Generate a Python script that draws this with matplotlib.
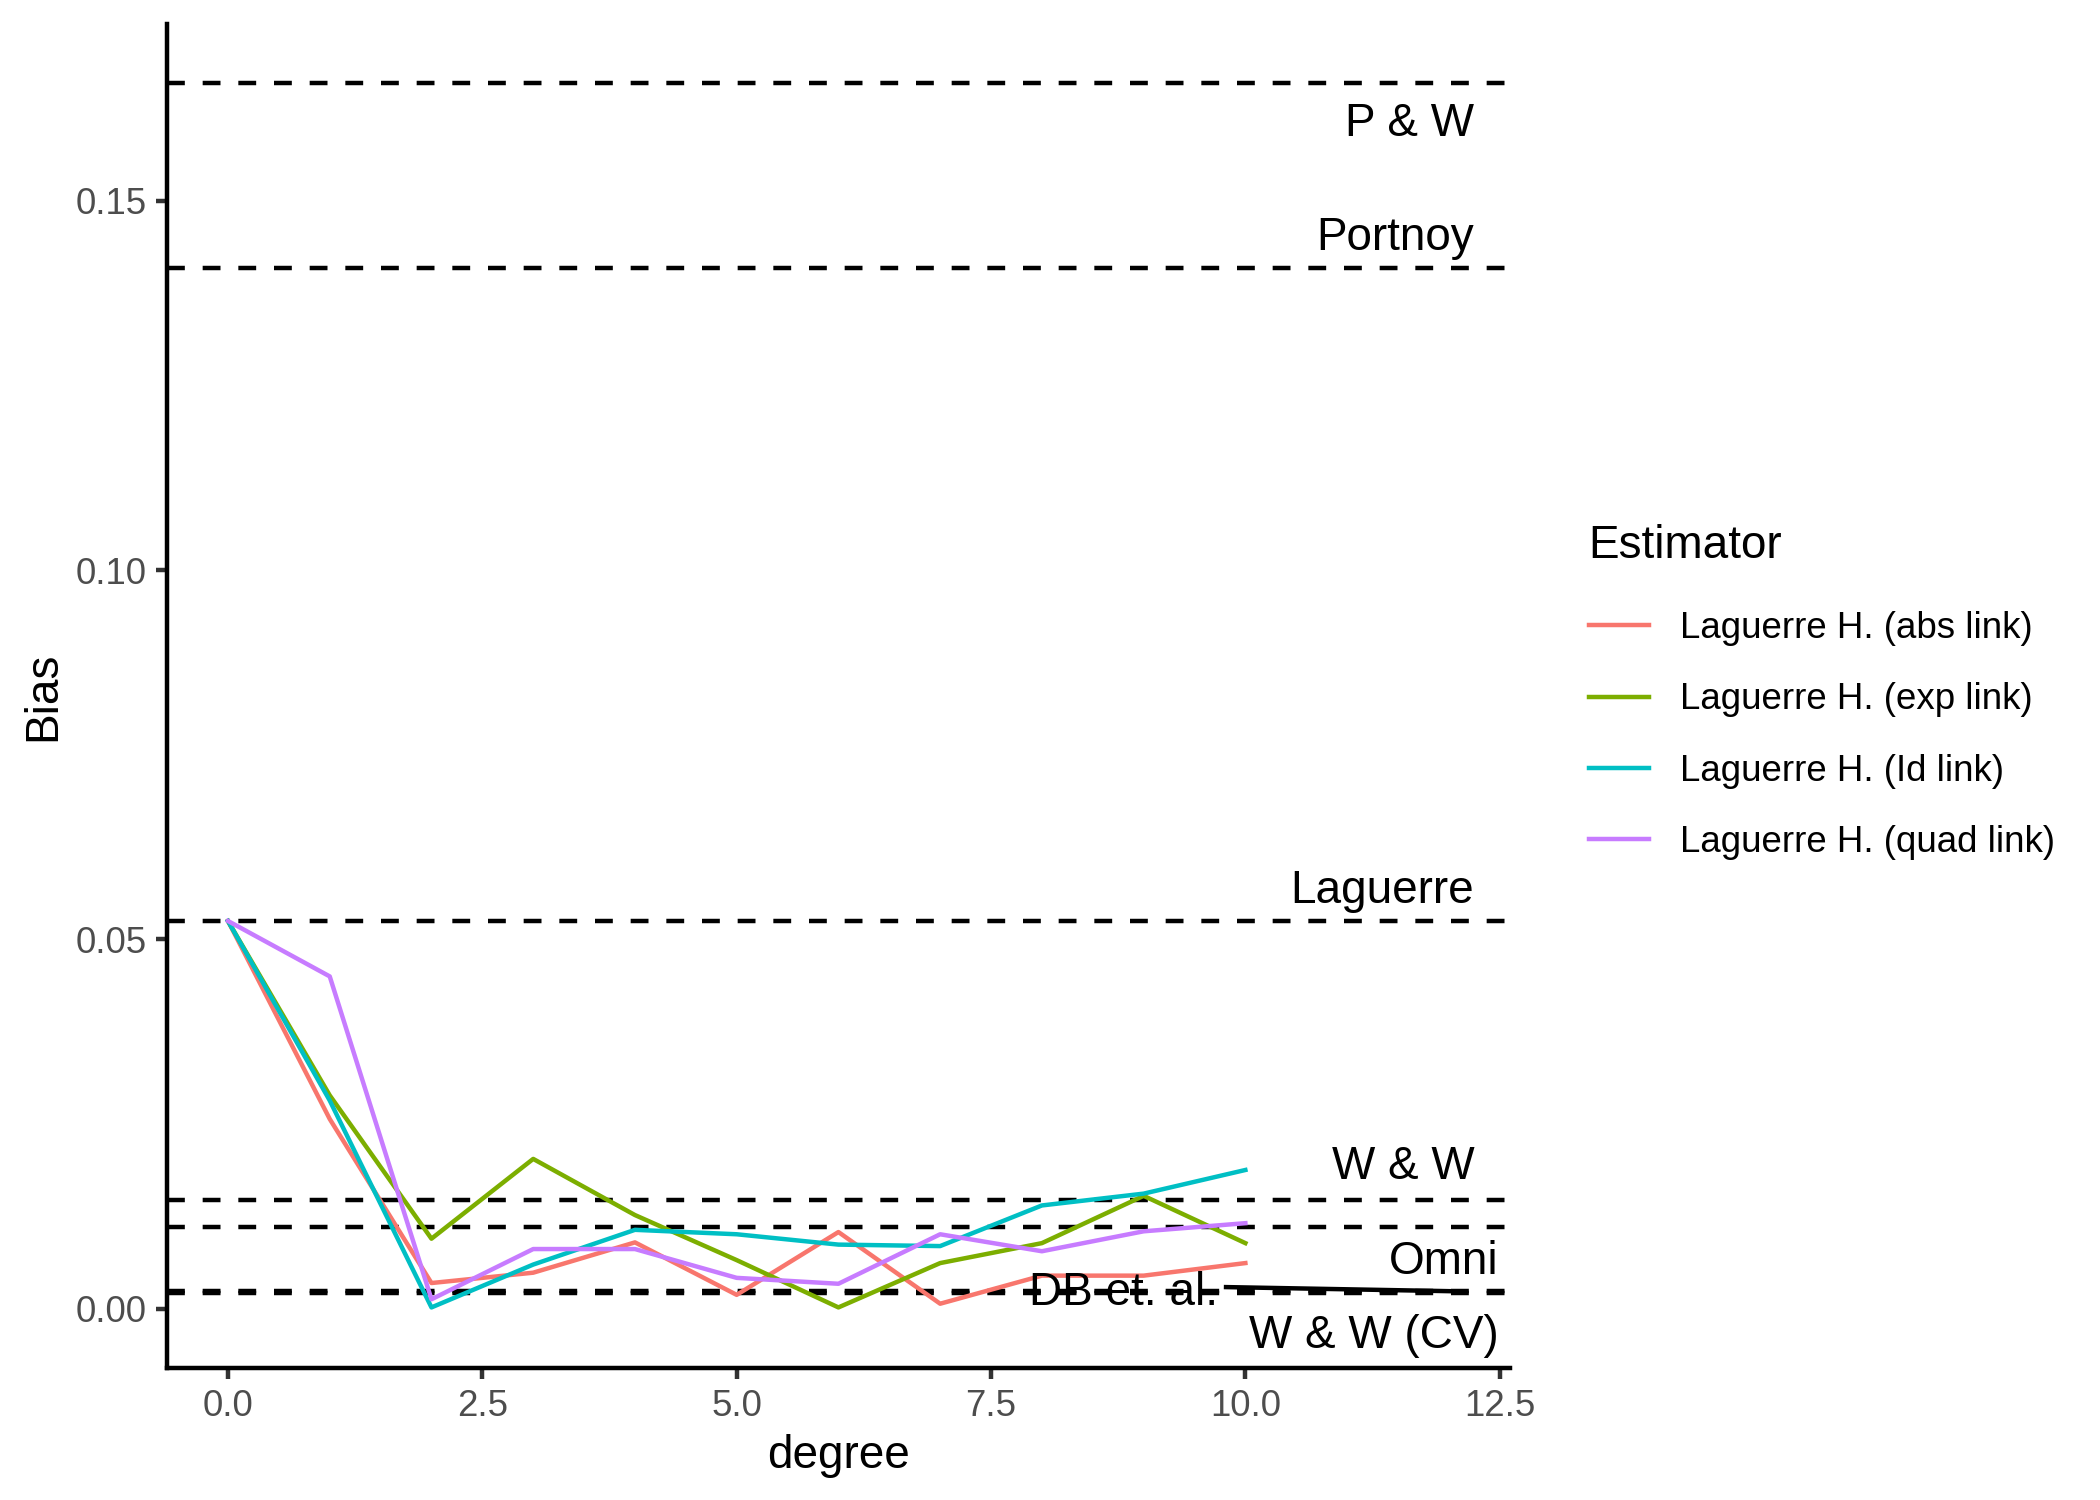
import matplotlib
matplotlib.use('Agg')
import matplotlib.pyplot as plt

plt.rcParams['font.family'] = ['Liberation Sans', 'DejaVu Sans']

# degree on the x axis
degree = [0, 1, 2, 3, 4, 5, 6, 7, 8, 9, 10]

# bias for each estimator
bias_abs = [0.0525, 0.0257, 0.0035, 0.0049, 0.0090, 0.0019, 0.0104, 0.0007, 0.0045, 0.0045, 0.0062]
bias_exp = [0.0525, 0.0289, 0.0095, 0.0203, 0.0127, 0.0066, 0.0002, 0.0062, 0.0089, 0.0153, 0.0089]
bias_id = [0.0525, 0.0282, 0.0002, 0.0060, 0.0107, 0.0101, 0.0087, 0.0085, 0.0140, 0.0156, 0.0188]
bias_quad = [0.0525, 0.0450, 0.0013, 0.0081, 0.0081, 0.0042, 0.0034, 0.0101, 0.0078, 0.0105, 0.0116]

series_names = ['Laguerre H. (abs link)', 'Laguerre H. (exp link)',
                'Laguerre H. (Id link)', 'Laguerre H. (quad link)']
series_colors = ['#F8766D', '#7CAE00', '#00BFC4', '#C77CFF']

# reference estimators drawn as horizontal lines
ref_names = ['P & W', 'Portnoy', 'Laguerre', 'W & W', 'Omni', 'DB et. al.', 'W & W (CV)']
ref_bias = [0.1659, 0.1409, 0.0525, 0.0148, 0.0111, 0.0024, 0.0022]

# where the labels ended up (ggrepel style)
label_x = [12.25, 12.25, 12.25, 12.25, 12.49, 8.80, 12.49]
label_y = [0.1603, 0.1449, 0.0565, 0.0192, 0.0063, 0.0021, -0.0037]
label_ha = ['right', 'right', 'right', 'right', 'right', 'center', 'right']

lw = 1.07

fig = plt.figure(figsize=(7, 5), dpi=300)
ax = fig.add_axes([0.0795, 0.088, 0.719 - 0.0795, 0.984 - 0.088])

for v in ref_bias:
    ax.axhline(v, color='black', lw=lw, linestyle=(0, (4, 4)), zorder=1)

ys = [bias_abs, bias_exp, bias_id, bias_quad]
for y, name, c in zip(ys, series_names, series_colors):
    ax.plot(degree, y, color=c, lw=lw, label=name, zorder=2)

for name, x, y, ha in zip(ref_names, label_x, label_y, label_ha):
    ax.text(x, y, name, ha=ha, va='center', fontsize=11, color='black', zorder=3)

# segment from the repelled DB label back to its line end
ax.plot([9.81, 12.0], [0.00295, ref_bias[5]], color='black', lw=lw, zorder=3)

ax.set_xlim(-0.6, 12.6)
ax.set_ylim(-0.0080, 0.1739)
ax.set_xticks([0.0, 2.5, 5.0, 7.5, 10.0, 12.5])
ax.set_xticklabels(['0.0', '2.5', '5.0', '7.5', '10.0', '12.5'])
ax.set_yticks([0.00, 0.05, 0.10, 0.15])
ax.set_yticklabels(['0.00', '0.05', '0.10', '0.15'])

for s in ['top', 'right']:
    ax.spines[s].set_visible(False)
for s in ['left', 'bottom']:
    ax.spines[s].set_linewidth(lw)
    ax.spines[s].set_color('black')
ax.tick_params(length=2.75, width=lw, color='#333333', labelcolor='#4D4D4D',
               labelsize=8.8, pad=2.2)

ax.set_xlabel('degree', fontsize=11, labelpad=2.5)
ax.set_ylabel('Bias', fontsize=11, labelpad=2.5)

leg = ax.legend(title='Estimator', loc='upper left', bbox_to_anchor=(0.7565, 0.6505),
                bbox_transform=fig.transFigure, frameon=False, fontsize=8.8,
                title_fontsize=11, handlelength=1.65, handletextpad=0.85,
                labelspacing=0.99, borderpad=0, borderaxespad=0)
leg._legend_box.align = 'left'
leg._legend_box.sep = 10.3

fig.savefig('out.png', dpi=300, facecolor='white')
